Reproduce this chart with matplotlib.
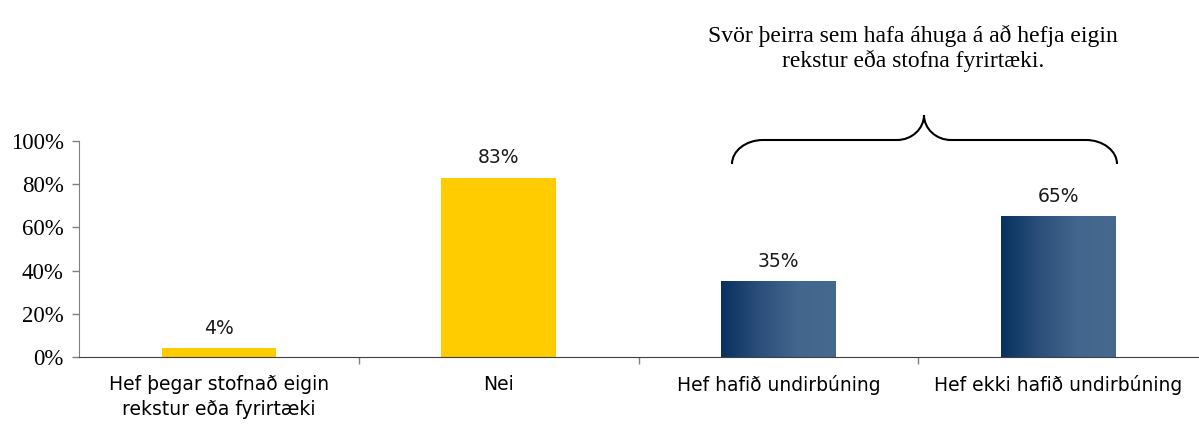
import matplotlib
matplotlib.use("Agg")
import matplotlib.pyplot as plt
import numpy as np
from matplotlib.path import Path
from matplotlib.patches import PathPatch
from matplotlib.colors import LinearSegmentedColormap

categories = ["Hef þegar stofnað eigin\nrekstur eða fyrirtæki", "Nei",
              "Hef hafið undirbúning", "Hef ekki hafið undirbúning"]
values = [4, 83, 35, 65]
value_labels = ["4%", "83%", "35%", "65%"]
yticks = [0, 20, 40, 60, 80, 100]
ytick_labels = ["0%", "20%", "40%", "60%", "80%", "100%"]
title_text = "Svör þeirra sem hafa áhuga á að hefja eigin\nrekstur eða stofna fyrirtæki."

W, H = 1199, 425
fig = plt.figure(figsize=(W / 100, H / 100), dpi=100)
ax = fig.add_axes([79 / W, 1 - 357 / H, (1198 - 79) / W, 216 / H])

x = np.arange(len(categories))
bw = 0.41
yellow = "#FFCC00"
cmap = LinearSegmentedColormap.from_list("blue", ["#07315f", "#2b4f7a", "#42668d", "#46698f"])
bars = ax.bar(x, values, width=bw, color=[yellow, yellow, "none", "none"], zorder=2)
grad = np.linspace(0, 1, 256).reshape(1, -1)
for i in (2, 3):
    b = bars[i]
    ax.imshow(grad, cmap=cmap, aspect="auto", zorder=2,
              extent=[b.get_x(), b.get_x() + b.get_width(), 0, b.get_height()],
              interpolation="bilinear")

for xi, v, lab in zip(x, values, value_labels):
    ax.text(xi, v + 5, lab, ha="center", va="bottom", fontsize=13.5,
            family="DejaVu Sans", color="#1a1a1a")

ax.set_xlim(-0.5, len(categories) - 0.5)
ax.set_ylim(0, 100)
ax.set_yticks(yticks)
ax.set_yticklabels(ytick_labels, family="Liberation Serif", fontsize=16.5)
ax.set_xticks([0.5, 1.5, 2.5])
ax.set_xticklabels([])
ax.tick_params(axis="x", length=5, color="#808080", width=1)
ax.tick_params(axis="y", length=5, color="#808080", width=1, pad=6)
for xi, c in zip(x, categories):
    ax.text(xi, -0.085, c, transform=ax.get_xaxis_transform(), ha="center", va="top",
            fontsize=13.5, family="DejaVu Sans", linespacing=1.38)

for s in ("top", "right"):
    ax.spines[s].set_visible(False)
ax.spines["left"].set_color("#808080")
ax.spines["bottom"].set_color("#404040")

# title
fig.text(913 / W, 1 - 25 / H, title_text, ha="center", va="top",
         family="Liberation Serif", fontsize=17, linespacing=1.15)

# curly brace, figure pixel coordinates
def fp(px, py):
    return (px / W, 1 - py / H)

k = 0.55
xl, xr, xm = 732, 1117, 924
yb, yh, yt = 164, 140, 115
cw = 31  # corner width
mw = 27  # middle curve width
verts = [fp(xl, yb),
         fp(xl, yb - k * (yb - yh)), fp(xl + cw - k * cw, yh), fp(xl + cw, yh),
         fp(xm - mw, yh),
         fp(xm - mw + k * mw, yh), fp(xm, yt + k * (yh - yt)), fp(xm, yt),
         fp(xm, yt + k * (yh - yt)), fp(xm + mw - k * mw, yh), fp(xm + mw, yh),
         fp(xr - cw, yh),
         fp(xr - cw + k * cw, yh), fp(xr, yb - k * (yb - yh)), fp(xr, yb)]
codes = [Path.MOVETO,
         Path.CURVE4, Path.CURVE4, Path.CURVE4,
         Path.LINETO,
         Path.CURVE4, Path.CURVE4, Path.CURVE4,
         Path.CURVE4, Path.CURVE4, Path.CURVE4,
         Path.LINETO,
         Path.CURVE4, Path.CURVE4, Path.CURVE4]
fig.patches.append(PathPatch(Path(verts, codes), transform=fig.transFigure,
                             fill=False, lw=1.5, edgecolor="black"))

fig.savefig("out.png", dpi=100)
